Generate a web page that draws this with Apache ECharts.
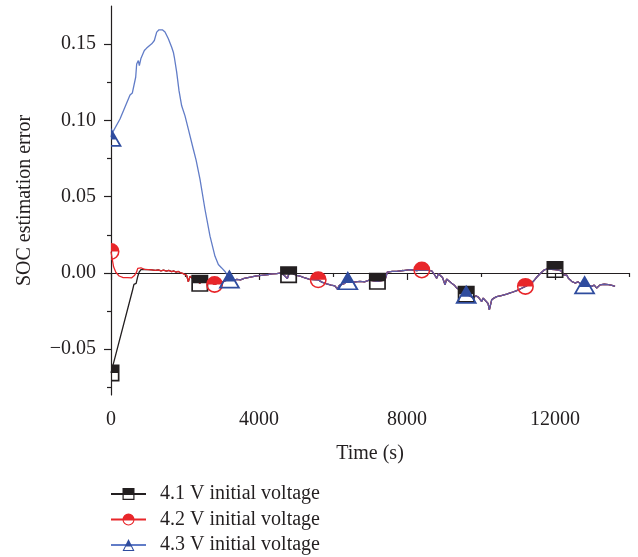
<!DOCTYPE html>
<html>
<head>
<meta charset="utf-8">
<script src="https://cdn.jsdelivr.net/npm/echarts@6/dist/echarts.min.js"></script>
<style>
html,body{margin:0;padding:0;background:#fff;}
#chart{width:638px;height:557px;}
</style>
</head>
<body>
<div id="chart"></div>
<script>
// ---------- data ----------
const seriesNames = ['4.1 V initial voltage', '4.2 V initial voltage', '4.3 V initial voltage'];

// start of 4.1 V curve (before it joins 4.2 V curve)
const head41Time = [0, 580, 620, 680, 720, 760, 810];
const head41Err  = [-0.0655, -0.0115, -0.0075, -0.0068, -0.0025, 0.0005, 0.0022];

// start of 4.2 V curve
const head42Time = [0, 30, 70, 130, 220, 330, 450, 560, 640, 690, 722, 766, 810];
const head42Err  = [0.0140, 0.0095, 0.0040, 0.0005, -0.0020, -0.0030, -0.0030, -0.0032, -0.0015, 0.0005, 0.0030, 0.0038, 0.0034];

// start of 4.3 V curve (before it joins the others)
const head43Time = [0, 18, 243, 514, 577, 630, 667, 694, 739, 766, 811, 847, 901, 964, 1036, 1100, 1171, 1235, 1297, 1388, 1460, 1550, 1640, 1685, 1712, 1775, 1838, 1910, 2000, 2090, 2225, 2300, 2406, 2541, 2676, 2811, 2901, 2991, 3081];
const head43Err  = [0.0890, 0.0910, 0.1009, 0.1166, 0.1180, 0.1188, 0.1283, 0.1370, 0.1392, 0.1359, 0.1408, 0.1403, 0.1458, 0.1474, 0.1490, 0.1502, 0.1524, 0.1579, 0.1594, 0.1594, 0.1579, 0.1535, 0.1480, 0.1447, 0.1414, 0.1316, 0.1195, 0.1096, 0.1030, 0.0943, 0.0811, 0.0740, 0.0614, 0.0416, 0.0241, 0.0109, 0.0055, 0.0033, 0.0010];

// shared part of 4.1 V and 4.2 V curves
const midTime = [850, 900, 950, 1000, 1050, 1100, 1150, 1200, 1280, 1350, 1420, 1500, 1560, 1640, 1700, 1760, 1820, 1890, 1955, 2000, 2045, 2090, 2135, 2198, 2250, 2300, 2350, 2400, 2451, 2520, 2586, 2680, 2800, 2900, 3000, 3100];
const midErr  = [0.0030, 0.0024, 0.0030, 0.0022, 0.0027, 0.0020, 0.0025, 0.0017, 0.0020, 0.0014, 0.0019, 0.0012, 0.0017, 0.0009, 0.0013, 0.0005, 0.0010, 0.0000, -0.0005, -0.0012, -0.0016, -0.0058, -0.0022, -0.0035, -0.0030, -0.0046, -0.0040, -0.0068, -0.0055, -0.0048, -0.0055, -0.0060, -0.0075, -0.0065, -0.0058, -0.0050];

// converged part shared by all three curves
const tailTime = [3200, 3300, 3400, 3500, 3600, 3700, 3800, 3900, 4000, 4120, 4250, 4350, 4480, 4600, 4700, 4766, 4800, 4857, 4920, 5020, 5130, 5244, 5350, 5450, 5600, 5700, 5830, 5950, 6050, 6118, 6172, 6300, 6400, 6550, 6730, 6850, 6982, 7100, 7200, 7320, 7406, 7469, 7600, 7722, 7900, 8082, 8262, 8400, 8550, 8668, 8740, 8803, 8850, 8893, 8960, 9028, 9070, 9117, 9208, 9280, 9343, 9450, 9530, 9600, 9700, 9793, 9860, 9928, 10018, 10060, 10108, 10190, 10226, 10289, 10350, 10424, 10550, 10695, 10830, 10966, 11100, 11200, 11300, 11415, 11500, 11596, 11700, 11777, 11900, 12000, 12100, 12182, 12230, 12272, 12320, 12361, 12410, 12452, 12500, 12542, 12620, 12700, 12800, 12900, 12993, 13060, 13128, 13218, 13330, 13443, 13540, 13623];
const tailErr  = [-0.0040, -0.0048, -0.0042, -0.0045, -0.0036, -0.0030, -0.0026, -0.0020, -0.0018, -0.0014, -0.0010, -0.0006, -0.0004, 0.0000, -0.0020, -0.0037, -0.0012, 0.0028, -0.0004, -0.0016, -0.0022, -0.0033, -0.0040, -0.0044, -0.0045, -0.0060, -0.0072, -0.0080, -0.0085, -0.0105, -0.0081, -0.0070, -0.0050, -0.0060, -0.0055, -0.0058, -0.0047, -0.0052, -0.0055, -0.0050, -0.0046, 0.0006, 0.0010, 0.0011, 0.0016, 0.0022, 0.0015, 0.0020, 0.0018, 0.0014, -0.0010, -0.0035, -0.0005, 0.0000, -0.0030, -0.0077, -0.0040, -0.0050, -0.0068, -0.0080, -0.0099, -0.0115, -0.0125, -0.0140, -0.0150, -0.0164, -0.0150, -0.0158, -0.0187, -0.0165, -0.0170, -0.0200, -0.0242, -0.0176, -0.0165, -0.0155, -0.0148, -0.0138, -0.0128, -0.0116, -0.0100, -0.0088, -0.0075, -0.0055, -0.0030, -0.0005, 0.0018, 0.0026, 0.0024, 0.0022, 0.0018, 0.0012, -0.0012, -0.0022, -0.0015, -0.0035, -0.0028, -0.0055, -0.0045, -0.0066, -0.0058, -0.0072, -0.0077, -0.0082, -0.0088, -0.0080, -0.0099, -0.0078, -0.0074, -0.0077, -0.0082, -0.0088];

// times at which markers are drawn
const marks41 = [0, 2400, 4800, 7200, 9600, 12000];
const marks42 = [0, 2800, 5600, 8400, 11200];
const marks43 = [0, 3200, 6400, 9600, 12800];

// axis ticks
const xMajor = [0, 4000, 8000, 12000];
const xMinor = [2000, 6000, 10000, 14000];
const yMajor = [-0.05, 0, 0.05, 0.10, 0.15];
const yMinor = [-0.075, -0.025, 0.025, 0.075, 0.125];

// ---------- styling ----------
const FONT = '"Liberation Serif", "DejaVu Serif", serif';
const TXT = '#231f20';
const C41 = '#231f20', C42 = '#e8262a', C43L = '#4565bd', C43M = '#2f4c9e';

// half-filled marker shapes (top half solid, bottom half outlined)
const SQ_FULL = 'path://M0 0H20V20H0Z M2 10V18H18V10Z';
const SQ_HALF = 'path://M10 0H20V20H10Z M10 10V18H18V10Z';
const CI_FULL = 'path://M0 10A10 10 0 1 1 20 10A10 10 0 1 1 0 10Z M1.8 10A8.2 8.2 0 0 0 18.2 10Z';
const CI_HALF = 'path://M10 0A10 10 0 0 1 10 20Z M10 10V18.2A8.2 8.2 0 0 0 18.2 10Z';
const TR_FULL = 'path://M10 0L20 20L0 20Z M5.65 12.5L2.8 18.2L17.2 18.2L14.35 12.5Z';
const TR_HALF = 'path://M10 0L20 20L10 20Z M10 12.5L10 18.2L17.2 18.2L14.35 12.5Z';

function build(times, errs, marks, halfSym, halfSize) {
  return times.map((t, i) => {
    const v = [t, errs[i]];
    if (marks.indexOf(t) < 0) return { value: v, symbol: 'none' };
    if (t === 0) return { value: v, symbol: halfSym, symbolSize: halfSize, symbolOffset: [halfSize[0] / 2, 0] };
    return { value: v };
  });
}

const data41 = build(head41Time.concat(midTime, tailTime), head41Err.concat(midErr, tailErr), marks41, SQ_HALF, [8.5, 17]);
const data42 = build(head42Time.concat(midTime, tailTime), head42Err.concat(midErr, tailErr), marks42, CI_HALF, [8.5, 17]);
const data43 = build(head43Time.concat(tailTime), head43Err.concat(tailErr), marks43, TR_HALF, [11, 19]);

const chart = echarts.init(document.getElementById('chart'), null, { renderer: 'canvas' });

const axisLineStyle = { color: TXT, width: 1.2 };
function yFmt(v) { return (v < 0 ? '\u2212' : '') + Math.abs(v).toFixed(2); }
function xFmt(v) { return String(Math.round(v)); }

chart.setOption({
  animation: false,
  backgroundColor: '#ffffff',
  grid: { left: 111, right: 9, top: 6, bottom: 162, containLabel: false },
  legend: {
    orient: 'vertical',
    left: 110,
    top: 484,
    height: 73,
    padding: 0,
    itemWidth: 35,
    itemHeight: 15,
    itemGap: 5.5,
    selectedMode: false,
    data: seriesNames,
    textStyle: { fontFamily: FONT, fontSize: 20, color: TXT, lineHeight: 20, padding: [0, 0, 0, 9] }
  },
  xAxis: [{
    type: 'value', position: 'bottom', min: 0, max: 14000,
    axisLine: { show: true, lineStyle: axisLineStyle },
    axisTick: { show: true, customValues: xMajor, length: 7, lineStyle: axisLineStyle },
    axisLabel: { customValues: xMajor, formatter: xFmt, fontFamily: FONT, fontSize: 20, color: TXT, margin: 15 },
    splitLine: { show: false },
    name: 'Time (s)', nameLocation: 'middle', nameGap: 49,
    nameTextStyle: { fontFamily: FONT, fontSize: 20, color: TXT }
  }, {
    type: 'value', position: 'bottom', min: 0, max: 14000,
    axisLine: { show: false },
    axisTick: { show: true, customValues: xMinor, length: 4, lineStyle: axisLineStyle },
    axisLabel: { show: false },
    splitLine: { show: false }
  }],
  yAxis: [{
    type: 'value', position: 'left', min: -0.08, max: 0.175,
    axisLine: { show: true, lineStyle: axisLineStyle },
    axisTick: { show: true, customValues: yMajor, length: 7, lineStyle: axisLineStyle },
    axisLabel: { customValues: yMajor, formatter: yFmt, fontFamily: FONT, fontSize: 20, color: TXT, margin: 15 },
    splitLine: { show: false },
    name: 'SOC estimation error', nameLocation: 'middle', nameGap: 76,
    nameTextStyle: { fontFamily: FONT, fontSize: 20, color: TXT }
  }, {
    type: 'value', position: 'left', min: -0.08, max: 0.175,
    axisLine: { show: false },
    axisTick: { show: true, customValues: yMinor, length: 4, lineStyle: axisLineStyle },
    axisLabel: { show: false },
    splitLine: { show: false }
  }],
  series: [{
    name: seriesNames[0], type: 'line', xAxisIndex: 0, yAxisIndex: 0,
    data: data41, symbol: SQ_FULL, symbolSize: [17, 17], showSymbol: true, showAllSymbol: true,
    lineStyle: { color: C41, width: 1.3 },
    itemStyle: { color: C41, borderWidth: 0 },
    emphasis: { disabled: true }
  }, {
    name: seriesNames[1], type: 'line', xAxisIndex: 0, yAxisIndex: 0,
    data: data42, symbol: CI_FULL, symbolSize: [17, 17], showSymbol: true, showAllSymbol: true,
    lineStyle: { color: C42, width: 1.3 },
    itemStyle: { color: C42, borderWidth: 0 },
    emphasis: { disabled: true }
  }, {
    name: seriesNames[2], type: 'line', xAxisIndex: 0, yAxisIndex: 0,
    data: data43, symbol: TR_FULL, symbolSize: [22, 19], showSymbol: true, showAllSymbol: true,
    lineStyle: { color: C43L, width: 1.3, opacity: 0.85 },
    itemStyle: { color: C43M, borderWidth: 0 },
    emphasis: { disabled: true }
  }]
});
</script>
</body>
</html>
